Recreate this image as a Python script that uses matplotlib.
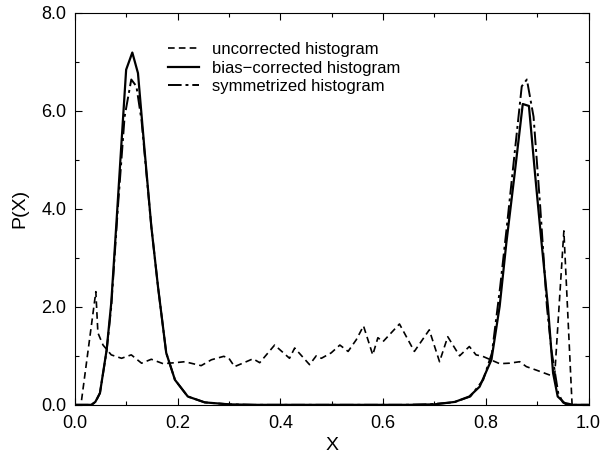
import numpy as np
import matplotlib
matplotlib.use('Agg')
import matplotlib.pyplot as plt
from matplotlib.ticker import MultipleLocator

plt.rcParams['font.family'] = ['Liberation Sans', 'DejaVu Sans']

# uncorrected histogram
x_unc = [0.0, 0.012, 0.041, 0.045, 0.055, 0.071, 0.091, 0.110, 0.130, 0.149,
         0.172, 0.195, 0.214, 0.246, 0.266, 0.290, 0.300, 0.311, 0.327, 0.347,
         0.360, 0.389, 0.418, 0.428, 0.457, 0.470, 0.480, 0.499, 0.516, 0.532,
         0.548, 0.562, 0.580, 0.590, 0.600, 0.632, 0.661, 0.690, 0.710, 0.726,
         0.749, 0.768, 0.781, 0.794, 0.827, 0.846, 0.866, 0.879, 0.898, 0.924,
         0.934, 0.952, 0.968, 0.98, 1.0]
y_unc = [0.0, 0.0, 2.31, 1.47, 1.22, 1.02, 0.95, 1.02, 0.85, 0.93,
         0.84, 0.86, 0.88, 0.80, 0.92, 0.99, 0.95, 0.78, 0.85, 0.94,
         0.86, 1.22, 0.95, 1.16, 0.82, 1.00, 0.95, 1.06, 1.22, 1.09,
         1.33, 1.61, 1.02, 1.37, 1.29, 1.65, 1.09, 1.53, 0.88, 1.39,
         1.00, 1.19, 1.02, 0.99, 0.84, 0.85, 0.88, 0.78, 0.71, 0.61,
         0.58, 3.55, 0.0, 0.0, 0.0]

# bias-corrected histogram
x_bias = [0.0, 0.032, 0.040, 0.049, 0.062, 0.071, 0.081, 0.090, 0.100, 0.112,
          0.123, 0.135, 0.149, 0.162, 0.178, 0.195, 0.220, 0.253, 0.30, 0.35,
          0.65, 0.70, 0.74, 0.768, 0.788, 0.811, 0.827, 0.840, 0.856, 0.872,
          0.884, 0.896, 0.908, 0.921, 0.931, 0.940, 0.953, 0.97, 1.0]
y_bias = [0.0, 0.0, 0.06, 0.24, 1.12, 2.08, 3.70, 5.20, 6.84, 7.19,
          6.77, 5.30, 3.64, 2.41, 1.06, 0.51, 0.17, 0.05, 0.01, 0.0,
          0.0, 0.01, 0.06, 0.17, 0.37, 0.92, 2.01, 3.30, 4.70, 6.14,
          6.10, 4.70, 3.37, 2.00, 0.65, 0.17, 0.04, 0.0, 0.0]

# symmetrized histogram
x_sym = [0.0, 0.032, 0.040, 0.049, 0.062, 0.071, 0.084, 0.097, 0.110, 0.120,
         0.130, 0.149, 0.162, 0.178, 0.195, 0.220, 0.253, 0.30, 0.35, 0.64,
         0.69, 0.737, 0.770, 0.795, 0.812, 0.828, 0.841, 0.870, 0.880, 0.893,
         0.906, 0.919, 0.928, 0.941, 0.950, 0.958, 0.97, 1.0]
y_sym = [0.0, 0.0, 0.05, 0.24, 1.10, 2.00, 4.04, 5.88, 6.64, 6.50,
         5.80, 3.64, 2.41, 1.06, 0.51, 0.17, 0.05, 0.01, 0.0, 0.0,
         0.01, 0.05, 0.17, 0.51, 1.06, 2.41, 3.64, 6.50, 6.64, 5.88,
         4.04, 2.00, 1.10, 0.24, 0.05, 0.0, 0.0, 0.0]

labels = ['uncorrected histogram', 'bias\u2212corrected histogram', 'symmetrized histogram']

fig = plt.figure(figsize=(6.03, 4.59), dpi=100)
ax = fig.add_axes([0.124, 0.118, 0.852, 0.854])

ax.plot(x_unc, y_unc, color='black', lw=1.2, dashes=(4, 2.5), label=labels[0])
ax.plot(x_bias, y_bias, color='black', lw=1.6, label=labels[1])
ax.plot(x_sym, y_sym, color='black', lw=1.4, dashes=(7, 2, 1.5, 2), label=labels[2])

ax.set_xlim(0, 1)
ax.set_ylim(0, 8)
ax.xaxis.set_major_locator(MultipleLocator(0.2))
ax.xaxis.set_minor_locator(MultipleLocator(0.1))
ax.yaxis.set_major_locator(MultipleLocator(2))
ax.yaxis.set_minor_locator(MultipleLocator(1))
ax.xaxis.set_major_formatter(plt.FormatStrFormatter('%.1f'))
ax.yaxis.set_major_formatter(plt.FormatStrFormatter('%.1f'))
ax.tick_params(which='both', direction='in', top=True, right=True, labelsize=13)
ax.tick_params(which='major', length=5, width=0.8)
ax.tick_params(which='minor', length=3, width=0.8)
ax.tick_params(axis='x', which='major', pad=7)
ax.tick_params(axis='y', which='major', pad=6)
for s in ax.spines.values():
    s.set_linewidth(0.8)

ax.set_xlabel('X', fontsize=14, labelpad=4)
ax.set_ylabel('P(X)', fontsize=14, labelpad=9)

ax.legend(loc='upper left', bbox_to_anchor=(0.181, 0.925), frameon=False,
          fontsize=12, handlelength=1.9, handletextpad=0.75,
          borderpad=0, borderaxespad=0, labelspacing=0.2)

fig.savefig('out.png', dpi=100)
